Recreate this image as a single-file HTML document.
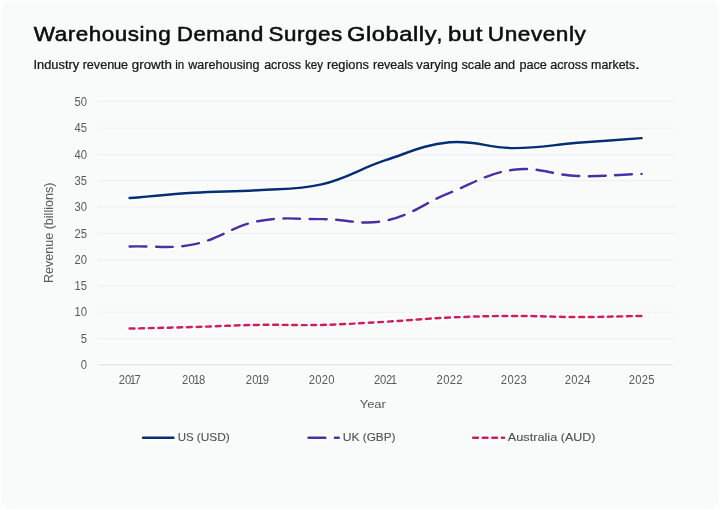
<!DOCTYPE html>
<html lang="en">
<head>
<meta charset="utf-8">
<title>Warehousing Demand Surges Globally, but Unevenly</title>
<style>
html,body{margin:0;padding:0;background:#ffffff;}
body{width:720px;height:510px;overflow:hidden;position:relative;font-family:"Liberation Sans",sans-serif;}
.card{position:absolute;left:1px;top:1px;width:718px;height:508px;background:#f9fafa;border-radius:9px;}
svg{position:absolute;left:0;top:0;will-change:transform;}
text{font-family:"Liberation Sans",sans-serif;}
.title{font-size:20.8px;fill:#0d0d0d;stroke:#0d0d0d;stroke-width:0.55px;letter-spacing:0.5px;}
.sub{font-size:12.2px;fill:#161616;stroke:#161616;stroke-width:0.24px;}
.tk{font-size:11.9px;fill:#5a5a5a;}
.ax{font-size:12.2px;fill:#5a5a5a;}
.lg{font-size:11.4px;fill:#525252;stroke:#525252;stroke-width:0.12px;}
</style>
</head>
<body>
<div class="card"></div>
<svg width="720" height="510" viewBox="0 0 720 510" role="img" aria-label="Line chart: Warehousing Demand Surges Globally, but Unevenly. Revenue (billions) by year 2017-2025 for US (USD), UK (GBP) and Australia (AUD).">
<text x="33.81" y="41" class="title" textLength="137.37" lengthAdjust="spacingAndGlyphs">Warehousing</text>
<text x="177.02" y="41" class="title" textLength="86.75" lengthAdjust="spacingAndGlyphs">Demand</text>
<text x="268.60" y="41" class="title" textLength="74.21" lengthAdjust="spacingAndGlyphs">Surges</text>
<text x="346.90" y="41" class="title" textLength="90.25" lengthAdjust="spacingAndGlyphs">Globally</text>
<text x="436.40" y="41" class="title" textLength="6.30" lengthAdjust="spacingAndGlyphs">,</text>
<text x="447.95" y="41" class="title" textLength="35.05" lengthAdjust="spacingAndGlyphs">but</text>
<text x="487.89" y="41" class="title" textLength="98.49" lengthAdjust="spacingAndGlyphs">Unevenly</text>
<text x="33.49" y="69" class="sub" textLength="45.75" lengthAdjust="spacingAndGlyphs">Industry</text>
<text x="82.66" y="69" class="sub" textLength="45.46" lengthAdjust="spacingAndGlyphs">revenue</text>
<text x="131.84" y="69" class="sub" textLength="40.09" lengthAdjust="spacingAndGlyphs">growth</text>
<text x="175.21" y="69" class="sub" textLength="8.99" lengthAdjust="spacingAndGlyphs">in</text>
<text x="188.28" y="69" class="sub" textLength="71.29" lengthAdjust="spacingAndGlyphs">warehousing</text>
<text x="264.18" y="69" class="sub" textLength="36.71" lengthAdjust="spacingAndGlyphs">across</text>
<text x="304.91" y="69" class="sub" textLength="18.06" lengthAdjust="spacingAndGlyphs">key</text>
<text x="327.03" y="69" class="sub" textLength="41.90" lengthAdjust="spacingAndGlyphs">regions</text>
<text x="372.96" y="69" class="sub" textLength="40.40" lengthAdjust="spacingAndGlyphs">reveals</text>
<text x="416.38" y="69" class="sub" textLength="41.44" lengthAdjust="spacingAndGlyphs">varying</text>
<text x="461.42" y="69" class="sub" textLength="29.80" lengthAdjust="spacingAndGlyphs">scale</text>
<text x="493.91" y="69" class="sub" textLength="21.19" lengthAdjust="spacingAndGlyphs">and</text>
<text x="519.41" y="69" class="sub" textLength="27.52" lengthAdjust="spacingAndGlyphs">pace</text>
<text x="550.25" y="69" class="sub" textLength="37.28" lengthAdjust="spacingAndGlyphs">across</text>
<text x="591.09" y="69" class="sub" textLength="44.11" lengthAdjust="spacingAndGlyphs">markets</text>
<text x="634.90" y="69" class="sub" textLength="5.00" lengthAdjust="spacingAndGlyphs">.</text>
<g>
<line x1="97.6" x2="673.6" y1="338.50" y2="338.50" stroke="#eff0f3" stroke-width="1.25"/>
<line x1="97.6" x2="673.6" y1="312.20" y2="312.20" stroke="#eff0f3" stroke-width="1.25"/>
<line x1="97.6" x2="673.6" y1="285.85" y2="285.85" stroke="#eff0f3" stroke-width="1.25"/>
<line x1="97.6" x2="673.6" y1="259.55" y2="259.55" stroke="#eff0f3" stroke-width="1.25"/>
<line x1="97.6" x2="673.6" y1="233.30" y2="233.30" stroke="#eff0f3" stroke-width="1.25"/>
<line x1="97.6" x2="673.6" y1="207.05" y2="207.05" stroke="#eff0f3" stroke-width="1.25"/>
<line x1="97.6" x2="673.6" y1="180.65" y2="180.65" stroke="#eff0f3" stroke-width="1.25"/>
<line x1="97.6" x2="673.6" y1="154.50" y2="154.50" stroke="#eff0f3" stroke-width="1.25"/>
<line x1="97.6" x2="673.6" y1="128.15" y2="128.15" stroke="#eff0f3" stroke-width="1.25"/>
<line x1="97.6" x2="673.6" y1="101.40" y2="101.40" stroke="#eff0f3" stroke-width="1.25"/>
<line x1="97.6" x2="673.6" y1="364.80" y2="364.80" stroke="#ffffff" stroke-width="3.4"/>
<line x1="97.6" x2="673.6" y1="364.80" y2="364.80" stroke="#e3e4e4" stroke-width="1.5"/>
</g>
<g transform="scale(0.945 1)">
<text x="92.17" y="369.00" text-anchor="end" class="tk">0</text>
<text x="92.17" y="343.00" text-anchor="end" class="tk">5</text>
<text x="92.17" y="316.00" text-anchor="end" class="tk">10</text>
<text x="92.17" y="290.00" text-anchor="end" class="tk">15</text>
<text x="92.17" y="264.00" text-anchor="end" class="tk">20</text>
<text x="92.17" y="238.00" text-anchor="end" class="tk">25</text>
<text x="92.17" y="211.00" text-anchor="end" class="tk">30</text>
<text x="92.17" y="185.00" text-anchor="end" class="tk">35</text>
<text x="92.17" y="159.00" text-anchor="end" class="tk">40</text>
<text x="92.17" y="132.00" text-anchor="end" class="tk">45</text>
<text x="92.17" y="106.00" text-anchor="end" class="tk">50</text>
<text x="125.57" y="384" class="tk" dx="0.00 0.00 -1.38 -1.59">2017</text>
<text x="192.71" y="384" class="tk" dx="0.00 0.11 -1.27 -0.85">2018</text>
<text x="260.11" y="384" class="tk" dx="0.00 0.11 -1.27 -0.85">2019</text>
<text x="326.76" y="384" class="tk" dx="0.00 0.26 0.26 0.26">2020</text>
<text x="395.65" y="384" class="tk" dx="0.00 -0.21 -0.21 -1.59">2021</text>
<text x="461.98" y="384" class="tk" dx="0.00 0.32 0.32 0.32">2022</text>
<text x="530.03" y="384" class="tk" dx="0.00 0.32 0.32 0.32">2023</text>
<text x="597.53" y="384" class="tk" dx="0.00 0.32 0.32 0.32">2024</text>
<text x="665.29" y="384" class="tk" dx="0.00 0.32 0.32 0.32">2025</text>
</g>
<text x="372.8" y="408.3" text-anchor="middle" class="ax" style="font-size:11.5px" textLength="26.2" lengthAdjust="spacingAndGlyphs">Year</text>
<text transform="translate(53.3,232.8) rotate(-90)" text-anchor="middle" class="ax" textLength="100.3" lengthAdjust="spacingAndGlyphs">Revenue (billions)</text>
<g>
<path d="M129.60,198.09 C155.20,195.99 167.97,194.41 193.60,192.83 C219.17,191.26 232.04,191.88 257.60,190.20 C283.24,188.52 296.80,190.22 321.60,184.41 C348.00,178.23 359.63,168.75 385.60,160.21 C410.83,151.91 423.57,144.78 449.60,142.32 C474.77,139.94 487.99,148.00 513.60,148.11 C539.19,148.21 551.99,144.84 577.60,142.84 C603.19,140.84 616.00,140.00 641.60,138.11" fill="none" stroke="#ffffff" stroke-width="5.8" stroke-linecap="round" stroke-linejoin="round"/>
<path d="M129.60,198.09 C155.20,195.99 167.97,194.41 193.60,192.83 C219.17,191.26 232.04,191.88 257.60,190.20 C283.24,188.52 296.80,190.22 321.60,184.41 C348.00,178.23 359.63,168.75 385.60,160.21 C410.83,151.91 423.57,144.78 449.60,142.32 C474.77,139.94 487.99,148.00 513.60,148.11 C539.19,148.21 551.99,144.84 577.60,142.84 C603.19,140.84 616.00,140.00 641.60,138.11" fill="none" stroke="#022f76" stroke-width="2.45" stroke-linecap="round" stroke-linejoin="round"/>
<path d="M129.60,246.50 C155.20,245.66 168.78,249.30 193.60,244.40 C219.98,239.19 231.22,226.45 257.60,221.25 C282.42,216.35 296.00,219.25 321.60,219.14 C347.20,219.04 361.11,225.76 385.60,220.72 C412.31,215.23 423.67,203.17 449.60,192.83 C474.87,182.75 487.28,173.14 513.60,169.68 C538.48,166.41 551.94,175.15 577.60,175.99 C603.14,176.83 616.00,174.73 641.60,173.89" fill="none" stroke="#ffffff" stroke-width="5.8" stroke-linecap="round" stroke-linejoin="round" stroke-dasharray="16.8 9.59"/>
<path d="M129.60,246.50 C155.20,245.66 168.78,249.30 193.60,244.40 C219.98,239.19 231.22,226.45 257.60,221.25 C282.42,216.35 296.00,219.25 321.60,219.14 C347.20,219.04 361.11,225.76 385.60,220.72 C412.31,215.23 423.67,203.17 449.60,192.83 C474.87,182.75 487.28,173.14 513.60,169.68 C538.48,166.41 551.94,175.15 577.60,175.99 C603.14,176.83 616.00,174.73 641.60,173.89" fill="none" stroke="#4a2fa6" stroke-width="2.45" stroke-linecap="round" stroke-linejoin="round" stroke-dasharray="16.8 9.59"/>
<path d="M129.60,328.59 C155.20,327.96 168.00,327.75 193.60,327.01 C219.20,326.28 231.99,325.33 257.60,324.91 C283.19,324.49 296.02,325.54 321.60,324.91 C347.22,324.28 360.01,323.22 385.60,321.75 C411.21,320.28 423.98,318.70 449.60,317.54 C475.18,316.39 488.00,316.07 513.60,315.96 C539.20,315.86 552.00,317.02 577.60,317.02 C603.20,317.02 616.00,316.38 641.60,315.96" fill="none" stroke="#ffffff" stroke-width="5.8" stroke-linecap="round" stroke-linejoin="round" stroke-dasharray="4.8 4.772"/>
<path d="M129.60,328.59 C155.20,327.96 168.00,327.75 193.60,327.01 C219.20,326.28 231.99,325.33 257.60,324.91 C283.19,324.49 296.02,325.54 321.60,324.91 C347.22,324.28 360.01,323.22 385.60,321.75 C411.21,320.28 423.98,318.70 449.60,317.54 C475.18,316.39 488.00,316.07 513.60,315.96 C539.20,315.86 552.00,317.02 577.60,317.02 C603.20,317.02 616.00,316.38 641.60,315.96" fill="none" stroke="#cd1f5f" stroke-width="2.45" stroke-linecap="round" stroke-linejoin="round" stroke-dasharray="4.8 4.772"/>
</g>
<g>
<path d="M143.05,437.7 L173.45,437.7" fill="none" stroke="#ffffff" stroke-width="5.8" stroke-linecap="round" stroke-linejoin="round"/>
<path d="M143.05,437.7 L173.45,437.7" fill="none" stroke="#022f76" stroke-width="2.45" stroke-linecap="round" stroke-linejoin="round"/>

<path d="M308.55,437.7 L338.75,437.7" fill="none" stroke="#ffffff" stroke-width="5.8" stroke-linecap="round" stroke-linejoin="round" stroke-dasharray="16.8 9.59"/>
<path d="M308.55,437.7 L338.75,437.7" fill="none" stroke="#4a2fa6" stroke-width="2.45" stroke-linecap="round" stroke-linejoin="round" stroke-dasharray="16.8 9.59"/>

<path d="M473.15,437.7 L504.15,437.7" fill="none" stroke="#ffffff" stroke-width="5.8" stroke-linecap="round" stroke-linejoin="round" stroke-dasharray="4.8 4.772"/>
<path d="M473.15,437.7 L504.15,437.7" fill="none" stroke="#cd1f5f" stroke-width="2.45" stroke-linecap="round" stroke-linejoin="round" stroke-dasharray="4.8 4.772"/>

<text x="177.66" y="441" class="lg" textLength="15.90" lengthAdjust="spacingAndGlyphs">US</text>
<text x="196.78" y="441" class="lg" textLength="33.04" lengthAdjust="spacingAndGlyphs">(USD)</text>
<text x="342.84" y="441" class="lg" textLength="16.85" lengthAdjust="spacingAndGlyphs">UK</text>
<text x="362.73" y="441" class="lg" textLength="32.73" lengthAdjust="spacingAndGlyphs">(GBP)</text>
<text x="507.80" y="441" class="lg" textLength="49.42" lengthAdjust="spacingAndGlyphs">Australia</text>
<text x="560.82" y="441" class="lg" textLength="34.56" lengthAdjust="spacingAndGlyphs">(AUD)</text>
</g>
</svg>
</body>
</html>
